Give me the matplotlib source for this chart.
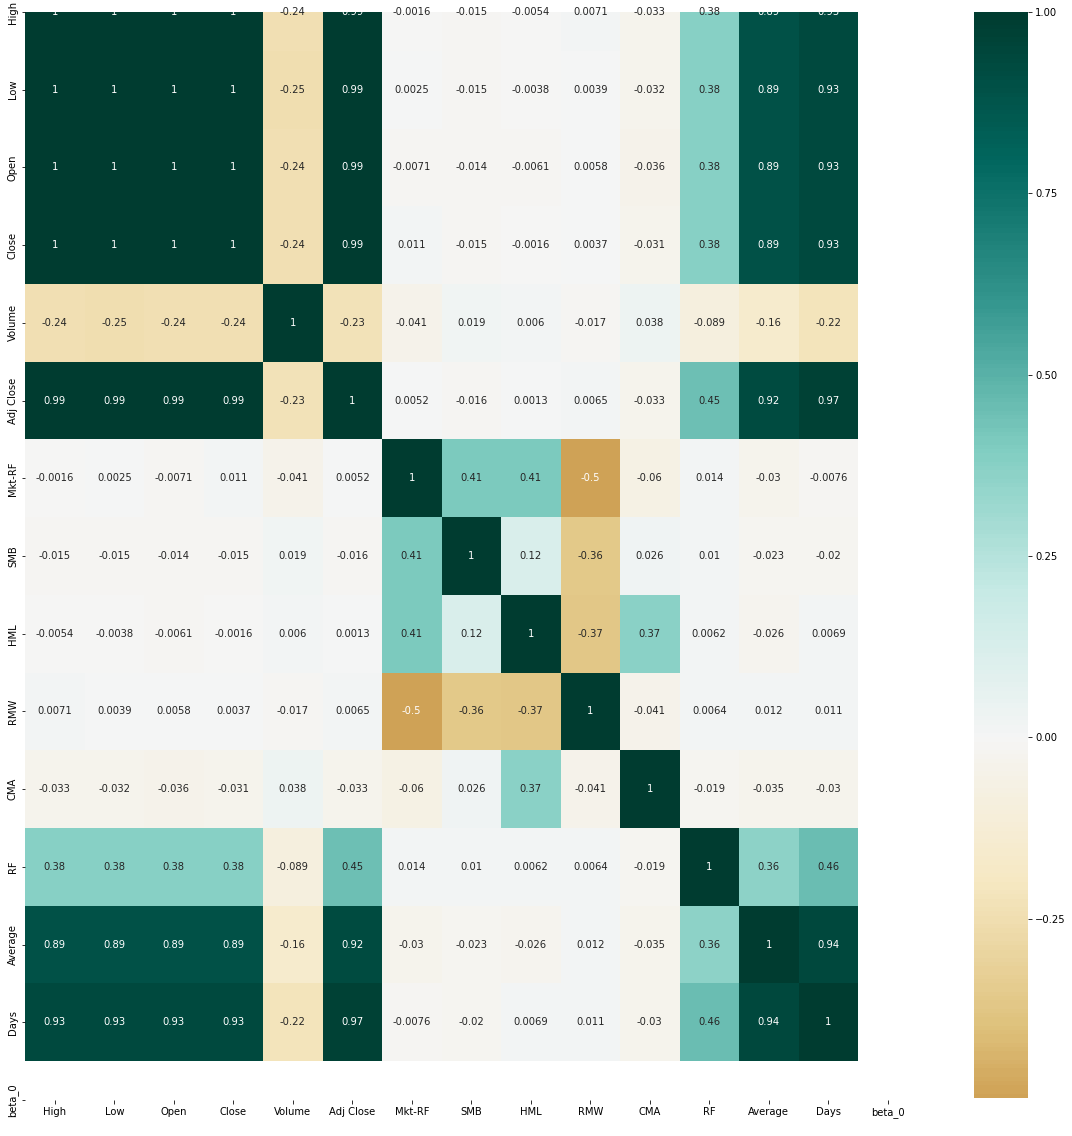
import numpy as np
import pandas as pd
import matplotlib
matplotlib.use("Agg")
import matplotlib.pyplot as plt
from matplotlib.ticker import MultipleLocator
import seaborn as sns

labels = ["High", "Low", "Open", "Close", "Volume", "Adj Close", "Mkt-RF",
          "SMB", "HML", "RMW", "CMA", "RF", "Average", "Days", "beta_0"]

# correlation rows (beta_0 is all NaN)
high = [1, 1, 1, 1, -0.24, 0.99, -0.0016, -0.015, -0.0054, 0.0071, -0.033, 0.38, 0.89, 0.93]
low = [1, 1, 1, 1, -0.25, 0.99, 0.0025, -0.015, -0.0038, 0.0039, -0.032, 0.38, 0.89, 0.93]
open_ = [1, 1, 1, 1, -0.24, 0.99, -0.0071, -0.014, -0.0061, 0.0058, -0.036, 0.38, 0.89, 0.93]
close = [1, 1, 1, 1, -0.24, 0.99, 0.011, -0.015, -0.0016, 0.0037, -0.031, 0.38, 0.89, 0.93]
volume = [-0.24, -0.25, -0.24, -0.24, 1, -0.23, -0.041, 0.019, 0.006, -0.017, 0.038, -0.089, -0.16, -0.22]
adj_close = [0.99, 0.99, 0.99, 0.99, -0.23, 1, 0.0052, -0.016, 0.0013, 0.0065, -0.033, 0.45, 0.92, 0.97]
mkt_rf = [-0.0016, 0.0025, -0.0071, 0.011, -0.041, 0.0052, 1, 0.41, 0.41, -0.497, -0.06, 0.014, -0.03, -0.0076]
smb = [-0.015, -0.015, -0.014, -0.015, 0.019, -0.016, 0.41, 1, 0.12, -0.36, 0.026, 0.01, -0.023, -0.02]
hml = [-0.0054, -0.0038, -0.0061, -0.0016, 0.006, 0.0013, 0.41, 0.12, 1, -0.37, 0.37, 0.0062, -0.026, 0.0069]
rmw = [0.0071, 0.0039, 0.0058, 0.0037, -0.017, 0.0065, -0.497, -0.36, -0.37, 1, -0.041, 0.0064, 0.012, 0.011]
cma = [-0.033, -0.032, -0.036, -0.031, 0.038, -0.033, -0.06, 0.026, 0.37, -0.041, 1, -0.019, -0.035, -0.03]
rf = [0.38, 0.38, 0.38, 0.38, -0.089, 0.45, 0.014, 0.01, 0.0062, 0.0064, -0.019, 1, 0.36, 0.46]
average = [0.89, 0.89, 0.89, 0.89, -0.16, 0.92, -0.03, -0.023, -0.026, 0.012, -0.035, 0.36, 1, 0.94]
days = [0.93, 0.93, 0.93, 0.93, -0.22, 0.97, -0.0076, -0.02, 0.0069, 0.011, -0.03, 0.46, 0.94, 1]

rows = [high, low, open_, close, volume, adj_close, mkt_rf, smb, hml, rmw,
        cma, rf, average, days]
mat = np.full((15, 15), np.nan)
mat[:14, :14] = np.array(rows)
corr = pd.DataFrame(mat, index=labels, columns=labels)

W, H = 1072, 1136
fig = plt.figure(figsize=(W / 72, H / 72), dpi=72)
ax = fig.add_axes([25 / W, (H - 1100) / H, 892.5 / W, 1088 / H])
cax = fig.add_axes([974 / W, (H - 1098) / H, 54 / W, 1086 / H])

sns.heatmap(corr, annot=True, cmap="BrBG", center=0, ax=ax, cbar_ax=cax)
# top and bottom rows cut in half, as in the original render
ax.set_ylim(14.5, 0.5)
ax.set_yticks(np.arange(15) + 0.5)
ax.set_yticklabels(labels, rotation=90, va="center")
ax.set_xticks(np.arange(15) + 0.5)
ax.set_xticklabels(labels, rotation=0)

cax.yaxis.set_major_locator(MultipleLocator(0.25))

fig.savefig("out.png", dpi=72)
